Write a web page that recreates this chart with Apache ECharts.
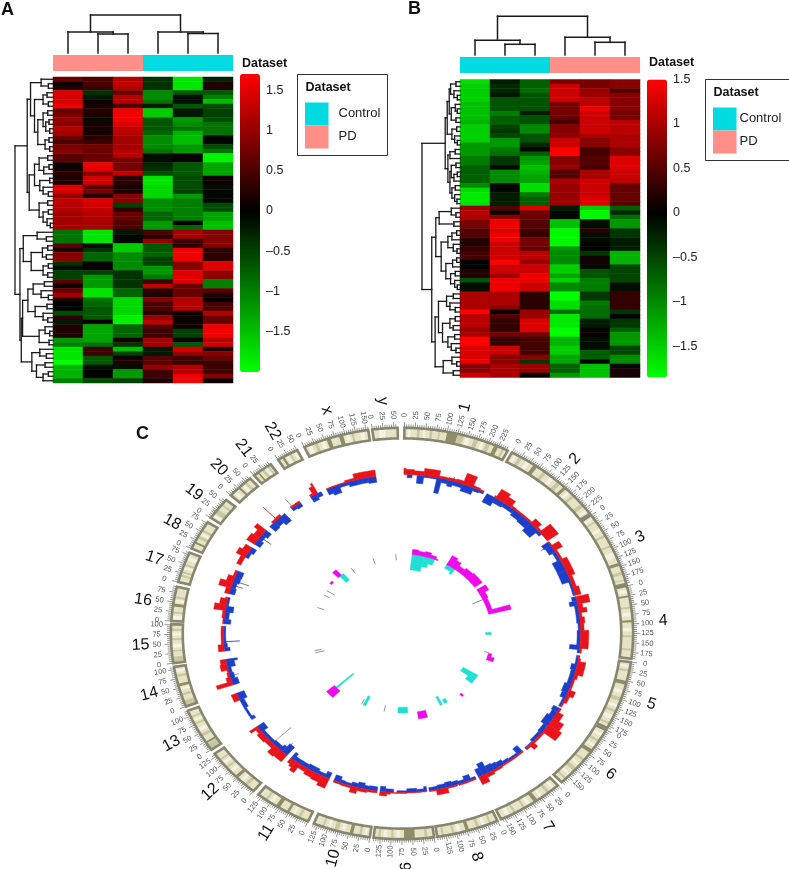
<!DOCTYPE html>
<html><head><meta charset="utf-8">
<style>html,body{margin:0;padding:0;background:#fff}#c{width:789px;height:869px}</style>
<script src="https://cdn.jsdelivr.net/npm/echarts@6/dist/echarts.min.js"></script>
</head><body><div id="c"></div>
<script>
// ---------- Panel A ----------
const samplesA = ['PD','PD','PD','Control','Control','Control'];
const heatA = [
[.7,.5,1.2,-.4,-1.8,-.3],[.1,.5,1.3,-.4,-1.8,.2],[.2,.4,1.2,-.4,-1.8,.2],[1.5,-.4,.7,-1.1,-.7,-.7],
[1.4,-.2,1.2,-1.1,-.1,-1],[1.4,.1,1.2,-.9,-.1,-1.5],[1.6,.15,.5,-.2,-.7,-.6],[.7,.25,1.6,-1.6,-.2,-.5],
[.8,.2,1.6,-1.6,-.2,-.5],[1,-.1,1.6,-.7,-1.2,-.6],[.9,.15,1.5,-.7,-1.1,-.9],[1.2,.15,1.3,-.7,-.9,-.9],
[1.1,.15,1.2,-.8,-1.4,-.9],[.7,.3,1.1,-1.1,-1.5,-.05],[.5,.4,1.1,-1.1,-1.5,-.05],[.8,.8,1.1,-1.1,-1.2,-.6],
[.9,.7,1.2,-.9,-1.2,-.9],[.6,.7,1.2,-.1,.05,-1.9],[.6,.7,.8,-.1,.05,-1.9],[.1,1.6,.8,-.3,-.7,-1.3],
[.1,1.5,.8,-.4,-.7,-1.3],[.3,.9,1.3,-.6,-.7,-1.3],[.2,1.4,.3,-1.8,-.6,.1],[.2,1.4,.3,-1.8,-.6,.1],
[1.5,.6,.15,-1.7,-.6,-.1],[1.4,.8,.2,-1.7,-.5,-.05],[1,.2,.9,-1.7,-1.2,-.05],[1.3,1.5,.9,-1.1,-1,-.05],
[1.2,1.4,-.5,-1.1,-1,-.6],[1.2,1.3,.3,-1.1,-1,-.6],[1.1,1.2,.7,-.8,-1,-1.3],[1.1,1.2,.7,-.8,-1,-1.3],
[1.1,1.1,.5,-1.2,0,-1.5],[1.1,1.1,.5,-1.2,-.8,-1.5],
[-.9,-1.8,-.2,.5,1.1,.9],[-.9,-1.8,-.05,.3,1.1,.9],[-.9,-1.8,-.05,1,.4,.9],[.6,-.1,-1.6,-.7,.3,.9],
[.2,-.4,-1.6,-.7,1.6,.3],[.9,-.8,-1.1,-.8,1.6,.3],[.9,-.8,-1.1,-.5,1.6,.3],[-.4,.05,-1.1,-.5,.9,1.5],
[-.1,.05,-1.1,-1.2,.9,1.5],[-.5,-.5,-.4,-1.2,1.5,1],[-.5,-1.2,-.4,-.9,1.5,.9],[.6,-1.2,-.4,.4,1.5,-1],
[.1,-1.2,-.4,1.3,.7,-1],[.7,-1.8,-.8,.3,.7,.6],[1.1,-1.8,-.8,.2,.7,.2],[.2,-.9,-1.7,.9,1.2,0],
[0,-.8,-1.7,.5,1.2,.5],[0,-.7,-1.7,.5,1.2,.5],[-.6,-.7,-1.7,.3,.1,1.2],[.3,-.7,-1.9,1,.1,.7],
[-.2,0,-1.9,1.3,.1,.7],[.2,-1.3,-.8,.6,.1,1.6],[.2,-1.3,-.8,.4,-.5,1.6],[.2,-1.3,-.8,.4,-.5,1.6],
[-1.2,-1.3,.15,1.1,.05,1.2],[-1,-.9,-.4,1.1,-.7,1.4],[-1.8,.4,-1.5,-.2,1.4,.2],[-1.8,.4,-.5,-.2,1,.9],
[-1.8,-.7,.1,.6,.4,.7],[-2,-.7,.2,.6,.4,.4],[-1.4,-.1,-.1,1,1.2,.4],[-1.4,0,-1.2,.4,1.2,.4],
[-1.4,0,-1.2,.4,1.6,.9],[-1,-.6,-.5,.2,1.6,.1]];
const topTreeA = [38,[21,0,[19,0,0]],[21,0,[19.5,0,0]]];
const rowTreeA = [115,
 [78,[68,[36,0,[14,0,0]],[56,[30,[18,0,0],[14,0,0]],[46,[30,[16,0,0],[22,[12,0,0],[10,0,0]]],[24,[12,0,0],[10,0,0]]]]],
     [72,[56,[42,[16,0,0],[28,[12,0,0],0]],[40,[10,0,0],[30,0,[14,0,0]]]],[42,[16,0,0],[30,[14,0,0],[18,0,[8,0,0]]]]]],
 [100,[90,[48,0,[20,0,0]],[66,[32,[16,0,0],[20,0,0]],[30,[14,0,0],[16,0,0]]]],
     [96,[92,[76,[60,[26,0,0],[36,0,[14,0,0]]],[54,[18,0,0],[30,0,[16,0,0]]]],[42,[24,0,[10,0,0]],[12,0,0]]],
         [64,[40,0,[20,0,0]],[50,[24,0,0],[30,[14,0,0],0]]]]]];
const scaleA = {min:-2,max:1.7};
// ---------- Panel B ----------
const samplesB = ['Control','Control','Control','PD','PD','PD'];
const heatB = [
[-1.6,-.2,-.7,.7,.7,.8],[-1.5,-.3,-.7,1.2,.7,.8],[-1.5,-.3,-.8,1.2,.9,.5],[-1.5,-.15,-.6,1.2,.9,.8],
[-1.5,-.6,-.6,1.2,1.1,.8],[-1.4,-.6,-.6,.7,1.1,.8],[-1.4,-.6,-.6,.7,1.4,.8],[-1.4,-.9,-.2,.7,1.2,.7],
[-1.4,-.7,-.6,.6,1.2,.7],[-1.3,-.7,-.6,.4,1.2,1.1],[-1.5,-.5,-1,.8,1.2,1.1],[-1.5,-.4,-1,.8,1.2,1.1],
[-1.5,-.5,-.6,.8,1,1],[-1.5,-1.1,-.6,1.2,.8,1],[-1.1,-1.1,-.3,1.2,.8,1],[-1.1,-.9,-.05,1.5,.4,.8],
[-1.1,-.8,-.7,1.5,.4,.8],[-.9,-.4,-1.1,.8,.5,1.3],[-.9,-.4,-1.2,.8,.5,1.3],[-.7,-.05,-1.4,.9,.4,1.3],
[-.7,-1,-1.3,.5,1,1.2],[-.7,-1,-1.2,.5,1,1.2],[-.7,-1,-1.2,1,1.2,1.1],[-1,-.05,-1.6,.9,1.2,.6],
[-1.6,-.05,-1.6,.9,1.2,.6],[-1.7,-.2,-.9,.9,1.2,.6],[-1.7,-.2,-.7,.9,1.3,.6],[-1.6,-.2,-.7,.9,1.3,.5],
[.9,.5,1.3,-.2,-1.5,-.7],[1.1,.1,.7,-.05,-1.8,-.3],[1,.8,.6,-.05,-1.8,-.8],[.7,1.4,.5,-1.4,-.1,-1.1],
[.7,1.4,.5,-1.4,-.1,-1.1],[.5,1.3,.4,-1.8,.25,-.4],[.5,1.4,.3,-1.8,-.1,-.4],[.2,1.4,.7,-1.8,-.1,-.2],
[.2,1.2,.7,-1.8,0,-.2],[.3,1.2,.6,-1.1,0,-.2],[.4,1.2,1.1,-1,-.4,-1.3],[.4,1.2,1.1,-1,.1,-1.3],
[0,1.5,.9,-1,.1,-1.3],[0,1.2,1.2,-1.5,-.05,-.5],[.2,1.2,1.2,-1.5,-.6,-.5],[.2,.9,1.4,-1.2,-.6,-.5],
[-.6,1.4,1.4,-1.5,-.9,-.5],[-.1,1.4,1.2,-1,-.9,-.1],[-.1,1.4,1.2,-1,-.9,-.1],[1,1,.25,-1.85,-.4,.3],
[1,1,.25,-1.85,-.4,.3],[1,1,.25,-1.6,-.9,.3],[1,.8,.25,-1.6,-.8,.3],[1.5,.05,.9,-.8,-.8,-.4],
[1.1,.5,.9,-1.7,-.8,0],[1.1,.3,1.3,-1.7,-.2,-.4],[1.1,.3,1.3,-1.7,-.2,-.4],[.9,.3,1.3,-1.85,.05,-.7],
[1,.7,.7,-1.85,.05,-1.1],[1.5,.3,.4,-1.3,-.1,-1.1],[1.5,.3,.4,-1.3,-.1,-1.1],[1.3,1.2,.4,-1.5,-.1,-.5],
[1.3,1.2,.4,-1.5,-.7,-.5],[1.3,.8,.8,-1.2,-.7,-1],[1.4,.8,-.4,-1.2,0,-1],[.8,1,.9,-.7,-1.4,-.05],
[.8,1,.9,-.7,-1.4,.15],[1.2,1,.05,-1.1,-1.4,.15]];
const topTreeB = [38.7,[14.7,0,[10.7,0,0]],[17.7,0,[12.7,0,0]]];
const rowTreeB = [113,
 [44,[38,[32,[28,[12,0,0],[18,0,[8,0,0]]],[26,[14,0,[8,0,0]],[12,0,0]]],[24,[10,0,0],[16,0,[8,0,0]]]],
     [36,[30,[14,0,0],0],[30,[26,[12,0,0],[18,[8,0,0],0]],[24,[14,0,0],[16,0,[9,0,0]]]]]],
 [84,[72,[62,[26,0,[12,0,0]],[18,0,0]],
         [56,[36,[24,[10,0,0],0],[20,0,[9,0,0]]],[42,[22,[10,0,0],0],[28,[14,0,0],[16,0,[8,0,0]]]]]],
     [74,[64,[40,[20,0,0],[30,0,[14,0,0]]],[52,[30,[14,0,0],[20,0,0]],[36,[16,0,0],[26,0,[12,0,0]]]]],
         [50,[24,0,[10,0,0]],[20,0,0]]]]];
const scaleB = {min:-1.85,max:1.5};
const colorbarTicks = [1.5,1,0.5,0,-0.5,-1,-1.5];
const datasetColors = {Control:'#00dbe2',PD:'#ff8f88'};
// ---------- Panel C ----------
const chrNames = ['1','2','3','4','5','6','7','8','9','10','11','12','13','14','15','16','17','18','19','20','21','22','x','y'];
const chrLengths = [249,243,198,191,181,171,159,146,141,135,135,133,115,107,102,90,81,78,59,63,48,51,155,59];
const chrStartAngles = [.6,28.4,54.9,76.6,98,118,137.6,155.6,172,188,204,220,235.6,249.2,261.7,273.5,284.5,294.4,304.2,312.2,320.2,327.6,335,352.6];
// [chromosome, start, end, shade]
const bands = [
[1,30,36,2],[1,60,66,2],[1,80,84,2],[1,100,125,3],[1,125,140,2],[1,165,175,2],[1,195,205,2],[1,215,225,3],[1,235,240,2],
[2,20,28,2],[2,60,70,3],[2,88,96,2],[2,130,140,2],[2,150,158,3],[2,180,186,2],[2,210,220,2],
[3,18,22,2],[3,60,66,2],[3,90,95,2],[3,140,148,3],[3,165,172,2],[3,185,188,2],
[4,25,30,3],[4,55,60,2],[4,90,96,3],[4,130,135,2],[4,165,170,2],
[5,20,25,2],[5,50,60,3],[5,95,105,2],[5,130,136,2],[5,165,170,2],
[6,30,36,2],[6,60,70,3],[6,90,96,2],[6,120,130,2],[6,155,160,2],
[7,25,32,2],[7,60,70,3],[7,95,100,2],[7,120,125,2],
[8,15,20,2],[8,45,52,2],[8,70,78,3],[8,105,110,2],[8,130,135,2],
[9,15,22,2],[9,45,70,3],[9,95,100,2],[9,125,130,2],
[10,20,26,2],[10,40,48,3],[10,75,85,2],[10,110,115,2],
[11,20,26,2],[11,50,56,3],[11,75,85,3],[11,110,115,2],
[12,20,28,2],[12,50,58,3],[12,85,90,2],[12,110,115,2],
[13,0,18,2],[13,20,25,3],[13,40,48,2],[13,75,80,2],[13,95,100,2],
[14,0,16,2],[14,30,36,2],[14,55,62,3],[14,80,86,2],
[15,0,17,2],[15,30,34,2],[15,60,65,2],[15,85,90,2],
[16,20,25,2],[16,38,46,3],[16,60,65,2],
[17,15,20,2],[17,25,30,2],[17,45,50,2],
[18,15,20,3],[18,30,38,2],[18,50,56,2],
[19,15,28,2],[19,40,45,2],
[20,25,30,3],[20,45,50,2],
[21,10,14,3],[21,22,28,2],[21,38,42,2],
[22,10,16,3],[22,30,34,2],
[23,25,32,2],[23,55,65,3],[23,85,95,3],[23,115,120,2],
[24,15,30,1],
[1,8,14,1],[1,44,50,1],[1,145,155,1],[1,182,190,1],[2,8,14,1],[2,40,50,1],[2,110,120,1],[2,165,172,1],[2,228,236,1],
[3,6,12,1],[3,40,48,1],[3,110,125,1],[4,10,18,1],[4,70,80,1],[4,110,120,1],[5,8,14,1],[5,75,85,1],[5,115,122,1],[5,145,155,1],
[6,12,20,1],[6,45,52,1],[6,105,112,1],[6,140,146,1],[7,10,16,1],[7,45,52,1],[7,80,88,1],[7,135,145,1],[8,30,38,1],[8,90,98,1],
[9,80,88,1],[9,110,118,1],[10,8,14,1],[10,60,68,1],[10,95,102,1],[11,35,42,1],[11,95,103,1],[12,35,42,1],[12,70,78,1],[12,98,105,1],
[13,55,65,1],[13,85,90,1],[14,45,52,1],[14,92,100,1],[15,40,50,1],[15,72,80,1],[16,5,15,1],[16,50,56,1],[17,35,42,1],[17,60,70,1],
[18,40,47,1],[19,5,12,1],[20,8,16,1],[20,35,42,1],[21,30,36,1],[22,20,26,1],[22,40,46,1],[23,8,18,1],[23,40,50,1],[23,100,110,1],[23,135,145,1]];
// [chromosome, start, end, height]
const redBars = [
[1,0,6,3],[1,6,30,2.5],[1,30,60,2],[1,60,106,3.5],[1,106,135,1],[1,135,160,1.2],[1,160,181,1.5],[1,181,212,5.5],[1,212,235,1],[1,235,249,.5],
[2,25,30,1],[2,30,60,5],[2,60,85,3.5],[2,85,100,1],[2,100,165,.8],[2,165,190,3],[2,190,205,1],[2,205,243,6],
[3,0,15,.5],[3,15,35,4],[3,35,70,1],[3,70,130,3],[3,130,170,1.5],[3,170,198,2.5],
[4,0,25,5.5],[4,25,40,2],[4,40,55,3.5],[4,55,70,1],[4,70,90,2],[4,90,115,1.5],[4,115,175,3.5],[4,175,191,.8],
[5,0,10,.5],[5,10,20,1],[5,20,65,3.5],[5,65,80,1.5],[5,80,120,.8],[5,120,140,3],[5,140,165,1.5],[5,165,181,.5],
[6,0,15,.8],[6,15,40,3],[6,40,65,5.5],[6,65,95,7],[6,95,140,1],[6,140,155,3],[6,155,171,1],
[7,0,80,.6],[7,80,110,1],[7,110,135,1.8],[7,135,159,4],
[8,0,20,.5],[8,20,55,.6],[8,60,90,.6],[8,90,125,2.7],[8,125,146,.5],
[9,0,60,.3],[9,60,110,.5],[9,110,120,1],[9,120,141,2],
[10,0,30,1],[10,30,60,1.5],[10,60,80,3],[10,80,110,1],[10,110,135,.8],
[11,0,25,5],[11,25,50,3.5],[11,50,75,3],[11,75,100,2],[11,100,115,5],[11,115,125,3.5],[11,125,135,2.5],
[12,0,30,4],[12,30,50,4.5],[12,50,80,2],[12,80,110,2.5],[12,110,125,1.5],[12,125,133,4],
[13,90,115,2.5],
[14,18,30,7],[14,30,45,2],[14,45,60,1],[14,60,70,.5],[14,70,90,3],[14,90,107,2.5],
[15,18,40,2.5],[15,40,102,1],
[16,0,20,.5],[16,20,45,1],[16,45,65,5],[16,65,85,3],[16,85,90,1],
[17,0,20,2],[17,20,40,5.5],[17,40,60,3],[17,60,81,1],
[18,10,40,2],[18,40,60,4.5],[18,60,78,3],
[19,0,25,4],[19,25,45,3],[19,45,59,5],
[20,15,30,1],[20,30,50,1.2],
[21,15,35,1],[21,35,48,1],
[22,15,25,1],[22,25,35,4],[22,35,40,5.5],
[23,0,60,.3],[23,60,90,1],[23,90,125,3],[23,125,155,3]];
const blueBars = [
[1,10,25,1.5],[1,40,60,4],[1,60,100,.8],[1,100,115,7.5],[1,115,135,2],[1,135,150,3],[1,150,180,2],[1,180,216,3.5],[1,216,235,1.5],[1,235,249,1],
[2,0,30,4.5],[2,30,60,2.5],[2,60,100,2],[2,100,130,3],[2,130,165,3.5],[2,165,200,5],[2,200,215,1.5],
[3,0,15,3.5],[3,15,40,3],[3,40,70,1.5],[3,70,110,4],[3,110,150,4],[3,150,198,1],
[4,0,15,2],[4,15,30,3.5],[4,30,60,1.5],[4,60,90,1.5],[4,90,115,1],[4,115,165,1.5],[4,165,180,4.5],[4,180,191,1],
[5,0,30,1],[5,30,50,2.5],[5,50,100,2],[5,100,130,3],[5,130,150,2.5],[5,150,181,1],
[6,0,15,3],[6,15,35,2.5],[6,35,70,3.5],[6,70,100,2],[6,100,140,1.5],[6,140,171,.5],
[7,0,18,3.5],[7,18,30,1],[7,30,50,1],[7,50,70,1.5],[7,70,90,2.5],[7,90,105,3],[7,105,125,3.5],[7,125,145,6],[7,145,159,4],
[8,0,15,1],[8,15,35,3],[8,35,55,1.5],[8,55,75,2],[8,75,95,2.5],[8,95,120,2],[8,120,146,1.5],
[9,0,8,2.2],[9,8,30,1.2],[9,30,60,1.8],[9,60,90,.8],[9,100,125,1.5],[9,125,141,2.5],
[10,0,25,2],[10,25,40,1.8],[10,40,60,2.8],[10,60,80,2],[10,80,100,1.2],[10,100,115,1.5],[10,115,135,3],
[11,0,15,3],[11,15,40,1.5],[11,40,55,2.5],[11,55,75,2.5],[11,75,100,2],[11,100,125,2],[11,125,135,3.5],
[12,0,20,5],[12,20,30,3],[12,30,60,2],[12,60,85,1.5],[12,85,110,1.5],[12,110,133,3.5],
[13,15,25,2],[13,25,60,1],[13,60,90,2],[13,90,115,3.5],
[14,18,40,3],[14,40,60,2],[14,60,80,1.5],[14,80,100,3.5],[14,100,107,5],
[15,18,30,2.5],[15,30,45,1.5],[15,45,102,1],
[16,0,15,3],[16,15,40,2],[16,40,60,3.5],[16,60,90,1],
[17,0,20,2.5],[17,20,40,2],[17,40,60,2.8],[17,60,81,3],
[18,40,60,1.5],[18,60,78,2.5],
[19,0,20,3],[19,20,40,2],[19,40,59,3],
[20,0,20,3.5],[20,20,40,3],[20,40,63,4.5],
[21,15,30,1.5],[21,30,48,2],
[22,15,35,3],[22,35,51,2],
[23,0,15,3],[23,15,40,4],[23,40,70,1.5],[23,70,100,2.5],[23,100,130,2.5],[23,130,155,3]];
const magentaBars = [
[1,55,90,2.5],[1,90,130,2],[1,130,165,2.5],[1,165,200,1.5],[1,200,215,.5],
[2,15,50,5],[2,50,80,4],[2,80,120,2.5],[2,120,170,3.5],[2,170,243,4],
[3,17,52,4.5],[3,52,92,2.5],[3,92,172,2],[3,172,197,10],
[5,60,80,1.5],[5,80,105,3],
[7,8,20,1.5],
[8,86,136,3.5],
[12,36,86,4.5],
[19,35,55,1],
[20,22,48,3.5]];
const cyanBars = [
[1,55,130,7.5],[1,130,165,5],[1,165,195,3],
[2,15,60,2],[2,60,75,3],
[4,118,133,2.5],
[6,35,70,7.5],[6,70,100,3.5],
[7,110,130,2],[7,145,159,4.5],
[9,40,100,2.8],
[11,1,17,5],
[12,61,71,10],
[20,34,63,4]];
// [chromosome, position, signed height, colour]
const outerSpikes = [
[1,150,2,'#777'],[3,12,-5,'#4a5aa8'],[12,60,-11,'#999'],[12,15,-6,'#777'],[12,3,3,'#c62828'],
[15,50,-7,'#2244cc'],[17,45,-7,'#666'],[17,30,-5,'#666'],[19,30,-6,'#555'],[20,32,8.5,'#d01c1c'],
[21,20,5,'#888'],[14,50,-4,'#888'],[5,135,3,'#555']];
const innerSpikes = [
[3,92,-5,'#777'],[5,55,-2,'#888'],[10,33,-3,'#888'],[11,28,-3,'#888'],[14,63,-4,'#888'],[14,78,-3,'#888'],
[17,42,-3,'#888'],[18,43,-3,'#888'],[18,77,-4,'#888'],[21,48,-3,'#888'],[23,56,-3,'#888'],[24,32,-3,'#888']];

// ---------- helpers ----------
const FONT = '"Liberation Sans",Arial,sans-serif';
function ramp(s){
  const out=[];const step=0.05;const n=Math.round((s.max-s.min)/step);
  for(let i=0;i<=n;i++){const v=s.min+i*step;
    let c;
    if(v<0){const t=Math.min(1,-v/(-s.min));c='rgb(0,'+Math.round(255*t)+',0)';}
    else{const t=Math.min(1,v/s.max);c='rgb('+Math.round(255*t)+',0,0)';}
    out.push(c);}
  return out;
}
function treeSegments(tree){
  let leaf=0;const segs=[];
  function walk(n){
    if(n===0){return {p:leaf++ +0.5,h:0};}
    const a=walk(n[1]),b=walk(n[2]);const h=n[0];
    segs.push([a.p,a.h,a.p,h],[b.p,b.h,b.p,h],[a.p,h,b.p,h]);
    return {p:(a.p+b.p)/2,h:h};
  }
  walk(tree);return segs;
}
function flat(rows){const d=[];rows.forEach((r,y)=>r.forEach((v,x)=>d.push([x,y,v])));return d;}
const seq=n=>Array.from({length:n},(_,i)=>String(i));

const grid=[],xAxis=[],yAxis=[],series=[],visualMap=[],graphic=[];
function addGrid(g,x,y){grid.push(g);const i=grid.length-1;
  xAxis.push(Object.assign({gridIndex:i,show:false},x));yAxis.push(Object.assign({gridIndex:i,show:false},y));return i;}
const segItem=(swap,w)=>function(p,api){
  const a=api.value(0),b=api.value(1),c=api.value(2),d=api.value(3);
  const s=swap?api.coord([b,a]):api.coord([a,b]),e=swap?api.coord([d,c]):api.coord([c,d]);
  return {type:'line',shape:{x1:s[0],y1:s[1],x2:e[0],y2:e[1]},style:{stroke:'#1a1a1a',lineWidth:w,lineCap:'square'}};
};
function panel(o){
  const L=o.left,T=o.top,W=180,H=o.h,rows=o.rows;
  const hg=addGrid({left:L,top:T,width:W,height:H},
    {type:'category',data:seq(6)},{type:'category',data:seq(rows.length),inverse:true});
  const hIdx=series.length;
  series.push({type:'heatmap',xAxisIndex:hg,yAxisIndex:hg,data:flat(rows),silent:true,progressive:0,itemStyle:{borderWidth:0}});
  visualMap.push({type:'continuous',seriesIndex:hIdx,min:o.scale.min,max:o.scale.max,calculable:false,show:true,realtime:false,
    left:o.cbLeft,top:o.cbTop,itemWidth:20,itemHeight:o.cbH,text:['',''],textGap:0,padding:0,showLabel:false,hoverLink:false,
    inRange:{color:ramp(o.scale)},textStyle:{fontSize:0}});
  const ag=addGrid({left:L,top:o.annTop,width:W,height:16},{type:'category',data:seq(6)},{type:'value',min:0,max:1});
  series.push({type:'bar',xAxisIndex:ag,yAxisIndex:ag,silent:true,barWidth:'100%',
    data:o.samples.map(s=>({value:1,itemStyle:{color:datasetColors[s]}}))});
  const tg=addGrid({left:L,top:o.annTop-2-o.topTree[0],width:W,height:o.topTree[0]},{type:'value',min:0,max:6},{type:'value',min:0,max:o.topTree[0]});
  series.push({type:'custom',xAxisIndex:tg,yAxisIndex:tg,silent:true,clip:false,data:treeSegments(o.topTree),renderItem:segItem(false,1.5)});
  const rg=addGrid({left:L-38,top:T,width:38,height:H},{type:'value',min:0,max:o.rowTree[0],inverse:true},{type:'value',min:0,max:rows.length,inverse:true});
  series.push({type:'custom',xAxisIndex:rg,yAxisIndex:rg,silent:true,clip:false,data:treeSegments(o.rowTree),renderItem:segItem(true,1.3)});
  const cg=addGrid({left:o.cbLeft,top:o.cbTop,width:20,height:o.cbH},{type:'value',min:0,max:1},
    {show:true,type:'value',position:'right',min:o.scale.min,max:o.scale.max,axisLine:{show:false},splitLine:{show:false},axisTick:{show:false},
     axisLabel:{customValues:colorbarTicks,margin:6,fontSize:12.5,fontFamily:FONT,color:'#222',showMinLabel:true,showMaxLabel:true,
       formatter:v=>String(v).replace('-','\u2013')}});
  graphic.push({type:'text',left:o.cbLeft+2,top:o.cbTop-o.titleUp,style:{text:'Dataset',font:'bold 12.5px '+FONT,fill:'#111'}});
  const b=o.box;
  graphic.push({type:'rect',shape:{x:b.x,y:b.y,width:b.w,height:81},style:{fill:'#fff',stroke:'#333',lineWidth:1}});
  graphic.push({type:'text',x:b.x+8,y:b.y+7,style:{text:'Dataset',font:'bold 12.5px '+FONT,fill:'#111'}});
  ['Control','PD'].forEach((n,i)=>{
    graphic.push({type:'rect',shape:{x:b.x+7.5,y:b.y+28+i*23,width:23.5,height:23},style:{fill:datasetColors[n]}});
    graphic.push({type:'text',x:b.x+b.lx,y:b.y+32+i*23,style:{text:n,font:'13px '+FONT,fill:'#222'}});
  });
  graphic.push({type:'text',x:o.letter[0],y:o.letter[1],style:{text:o.name,font:'bold 18px '+FONT,fill:'#111'}});
}
panel({name:'A',left:53,top:77,h:306,rows:heatA,scale:scaleA,samples:samplesA,topTree:topTreeA,rowTree:rowTreeA,annTop:55,
  cbLeft:240,cbTop:74,cbH:298,titleUp:17,box:{x:297.5,y:74.5,w:90,lx:41},letter:[1,1]});
panel({name:'B',left:460,top:79.5,h:298,rows:heatB,scale:scaleB,samples:samplesB,topTree:topTreeB,rowTree:rowTreeB,annTop:57,
  cbLeft:647,cbTop:79.5,cbH:298,titleUp:23,box:{x:705.5,y:79.5,w:84,lx:34},letter:[408,0]});

// ---------- circular panel (elliptical as in the figure) ----------
const DEG=0.107;
const ang=(c,p)=>chrStartAngles[c-1]+p*DEG;
const RI=.945,RO=.996;
const cg=addGrid({left:170,top:427,width:464,height:413},{type:'value',min:-1,max:1},{type:'value',min:-1,max:1});
const pt=(api,r,a)=>{const t=a*Math.PI/180;return api.coord([r*Math.sin(t),r*Math.cos(t)]);};
function arcPoly(api,r0,r1,a0,a1){
  const pts=[];const n=Math.max(1,Math.ceil((a1-a0)/0.5));
  for(let i=0;i<=n;i++)pts.push(pt(api,r1,a0+(a1-a0)*i/n));
  for(let i=n;i>=0;i--)pts.push(pt(api,r0,a0+(a1-a0)*i/n));
  return pts;
}
function custom(data,fn){series.push({type:'custom',xAxisIndex:cg,yAxisIndex:cg,silent:true,clip:false,data:data,renderItem:fn});}
custom(chrLengths.map((l,i)=>[i+1,l]),(p,api)=>{
  const c=api.value(0);
  return {type:'polygon',shape:{points:arcPoly(api,RI,RO,ang(c,0),ang(c,api.value(1)))},style:{fill:'#e6e3c6',stroke:'none'}};});
const shade={1:'#f4f2e2',2:'#c9c6a2',3:'#8f8d68'};
custom(bands,(p,api)=>({type:'polygon',shape:{points:arcPoly(api,RI,RO,ang(api.value(0),api.value(1)),ang(api.value(0),api.value(2)))},
  style:{fill:shade[api.value(3)]}}));
custom(chrLengths.map((l,i)=>[i+1,l]),(p,api)=>{
  const c=api.value(0);
  return {type:'polygon',shape:{points:arcPoly(api,RI,RO,ang(c,0),ang(c,api.value(1)))},style:{fill:'none',stroke:'#87876f',lineWidth:2.6}};});
const ticks=[],tickLabels=[];
chrLengths.forEach((l,i)=>{for(let p=0;p<=l;p+=5){ticks.push([i+1,p,p%25===0?1:0]);if(p%25===0)tickLabels.push([i+1,p]);}});
custom(ticks,(p,api)=>{const a=ang(api.value(0),api.value(1));const s=pt(api,1.0,a),e=pt(api,api.value(2)?1.024:1.013,a);
  return {type:'line',shape:{x1:s[0],y1:s[1],x2:e[0],y2:e[1]},style:{stroke:'#666',lineWidth:.7}};});
const textRot=a=>{const cw=a<=180?a-90:a-270;return -cw*Math.PI/180;};
custom(tickLabels,(p,api)=>{const a=ang(api.value(0),api.value(1));const q=pt(api,1.058,a);
  return {type:'text',x:q[0],y:q[1],rotation:textRot(a),style:{text:String(api.value(1)),font:'7.5px '+FONT,fill:'#555',align:'center',verticalAlign:'middle'}};});
custom(chrLengths.map((l,i)=>[i+1,l]),(p,api)=>{const c=api.value(0);const a=ang(c,api.value(1)/2);const q=pt(api,1.128,a);
  return {type:'text',x:q[0],y:q[1],rotation:textRot(a),style:{text:chrNames[c-1],font:'16px '+FONT,fill:'#111',align:'center',verticalAlign:'middle'}};});
function track(data,base,dir,color){
  custom(data,(p,api)=>{const c=api.value(0);const h=api.value(3)/100;
    return {type:'polygon',shape:{points:arcPoly(api,base,base+dir*h,ang(c,api.value(1)),ang(c,api.value(2)))},style:{fill:color,stroke:color,lineWidth:.5}};});
}
function spikes(data,base){
  custom(data.map(d=>d.slice(0,3)),(p,api)=>{const a=ang(api.value(0),api.value(1));const s=pt(api,base,a),e=pt(api,base+api.value(2)/100,a);
    return {type:'line',shape:{x1:s[0],y1:s[1],x2:e[0],y2:e[1]},style:{stroke:data[p.dataIndex][3],lineWidth:.9}};});
}
spikes(outerSpikes,.77);
track(blueBars,.77,-1,'#1c3fca');
track(redBars,.77,1,'#e8131b');
spikes(innerSpikes,.385);
track(cyanBars,.385,-1,'#1fe0d2');
track(magentaBars,.385,1,'#ee08ea');
graphic.push({type:'text',x:136,y:425,style:{text:'C',font:'bold 18px '+FONT,fill:'#111'}});

const chart=echarts.init(document.getElementById('c'),null,{renderer:'canvas'});
chart.setOption({animation:false,backgroundColor:'#fff',grid,xAxis,yAxis,visualMap,series,graphic:{elements:graphic}});
</script></body></html>
